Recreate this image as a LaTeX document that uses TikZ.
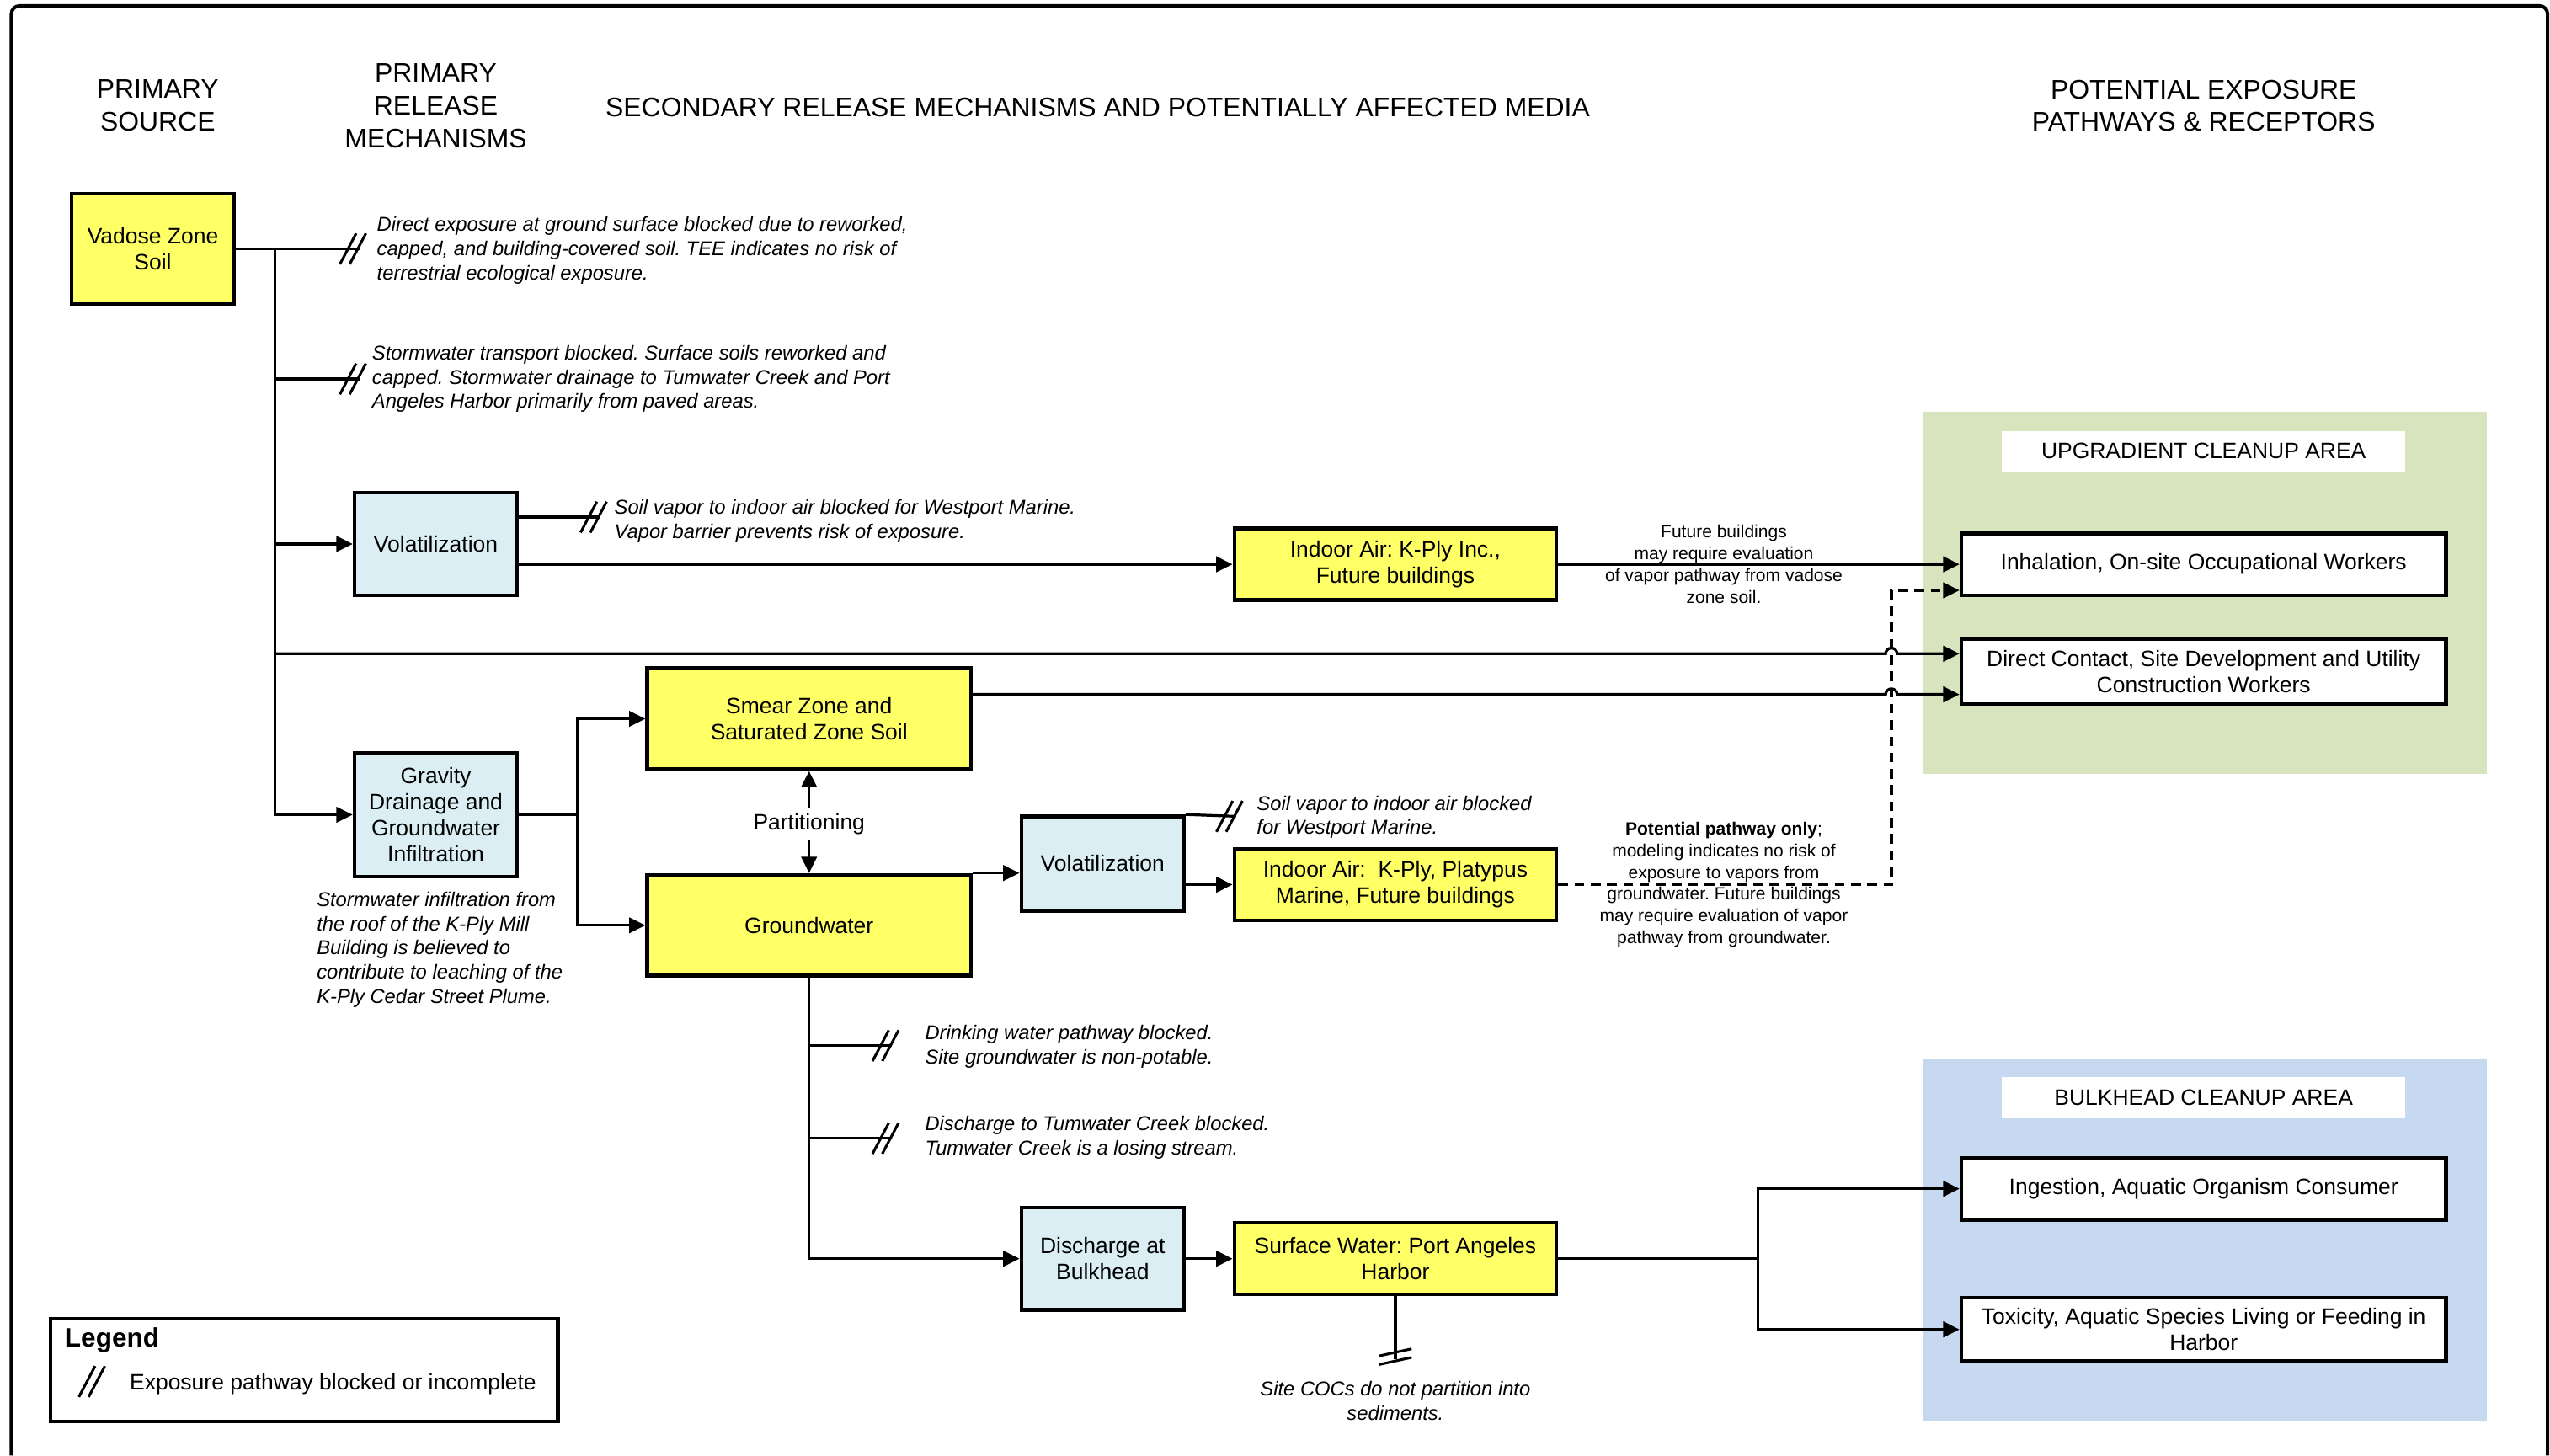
\documentclass[tikz,border=0pt]{standalone}
\usepackage{fontspec}
\setmainfont{Liberation Sans}
\usetikzlibrary{arrows.meta,positioning,calc}
\frenchspacing

\definecolor{mediayellow}{HTML}{FFFF66}
\definecolor{mechblue}{HTML}{DAEEF3}
\definecolor{upgreen}{HTML}{D7E4BD}
\definecolor{bulkblue}{HTML}{C6D9F1}

\tikzset{
  blocked/.pic={\draw[line width=0.9pt] (-12,9.5) -- (-2,-9.5) (-6,9.5) -- (4,-9.5);},
  vblocked/.pic={\draw[line width=0.9pt] (-10,-2.2) -- (10,-6.6) (-10,3.1) -- (10,-1.3);}
}

\begin{document}
\begin{tikzpicture}[x=0.2mm, y=-0.2mm, line width=0.95pt,
        >={Triangle[length=2mm,width=1.9mm]},
        mediabox/.style={rectangle, draw, line width=1.3pt, fill=mediayellow, align=center, inner sep=1pt, font=\fontsize{7.8}{9.2}\selectfont},
        mechbox/.style={mediabox, fill=mechblue},
        recbox/.style={mediabox, fill=white},
        headtxt/.style={align=center, inner sep=0pt, font=\fontsize{9.4}{11.4}\selectfont},
        notetxt/.style={align=left, anchor=west, inner sep=0pt, font=\fontsize{7}{8.5}\selectfont\itshape},
        sidetxt/.style={align=center, inner sep=0pt, font=\fontsize{6.2}{7.6}\selectfont},
        areatxt/.style={fill=white, minimum width=49.6mm, minimum height=5mm, inner sep=0pt, font=\fontsize{7.8}{9.2}\selectfont}]

    \useasboundingbox (0,0) rectangle (1568,895);
    \draw[line width=1.2pt, rounded corners=1mm] (7,895) -- (7,3.6) -- (1566.5,3.6) -- (1566.5,895);

    % cleanup areas
    \fill[upgreen] (1182,253) rectangle (1529,476);
    \fill[bulkblue] (1182,651) rectangle (1529,874);
    \node[areatxt] (upglbl) at (1355,277.5) {UPGRADIENT CLEANUP AREA};
    \node[areatxt] (bulklbl) at (1355,675) {BULKHEAD CLEANUP AREA};

    % column headings
    \node[headtxt] (hsrc) at (97,65) {PRIMARY\\SOURCE};
    \node[headtxt] (hrel) at (268,65) {PRIMARY\\RELEASE\\MECHANISMS};
    \node[headtxt] (hsec) at (675,66) {SECONDARY RELEASE MECHANISMS AND POTENTIALLY AFFECTED MEDIA};
    \node[headtxt] (hexp) at (1355,65) {POTENTIAL EXPOSURE\\PATHWAYS \& RECEPTORS};

    % media and mechanisms
    \node[mediabox, minimum width=20mm, minimum height=13.6mm] (vadose) at (94,153) {Vadose Zone\\Soil};
    \node[mechbox, minimum width=20mm, minimum height=12.6mm] (vol1) at (268,334.5) {Volatilization};
    \node[mechbox, minimum width=20mm, minimum height=15.2mm] (grav) at (268,501) {Gravity\\Drainage and\\Groundwater\\Infiltration};
    \node[mediabox, minimum width=39.8mm, minimum height=12.4mm] (smear) at (497.5,442) {Smear Zone and\\Saturated Zone Soil};
    \node[mediabox, minimum width=39.8mm, minimum height=12.4mm] (gw) at (497.5,569) {Groundwater};
    \node[mechbox, minimum width=20mm, minimum height=11.6mm] (vol2) at (678,531) {Volatilization};
    \node[mediabox, minimum width=39.6mm, minimum height=8.8mm] (ia1) at (858,347) {Indoor Air: K-Ply Inc.,\\Future buildings};
    \node[mediabox, minimum width=39.6mm, minimum height=8.8mm] (ia2) at (858,544) {Indoor Air:\ \ K-Ply, Platypus\\Marine, Future buildings};
    \node[mechbox, minimum width=20mm, minimum height=12.6mm] (dis) at (678,774) {Discharge at\\Bulkhead};
    \node[mediabox, minimum width=39.6mm, minimum height=8.8mm] (sw) at (858,774) {Surface Water: Port Angeles\\Harbor};
    \node[font=\fontsize{7.8}{9.2}\selectfont, inner sep=1.5pt] (part) at (497.5,507) {Partitioning};

    % receptors
    \node[recbox, minimum width=59.6mm, minimum height=7.6mm] (inh) at (1355,347) {Inhalation, On-site Occupational Workers};
    \node[recbox, minimum width=59.6mm, minimum height=8mm] (dc) at (1355,413) {Direct Contact, Site Development and Utility\\Construction Workers};
    \node[recbox, minimum width=59.6mm, minimum height=7.6mm] (ing) at (1355,731) {Ingestion, Aquatic Organism Consumer};
    \node[recbox, minimum width=59.6mm, minimum height=7.8mm] (tox) at (1355,817.5) {Toxicity, Aquatic Species Living or Feeding in\\Harbor};

    % notes
    \node[notetxt] (n1) at (231,154) {Direct exposure at ground surface blocked due to reworked,\\capped, and building-covered soil. TEE indicates no risk of\\terrestrial ecological exposure.};
    \node[notetxt] (n2) at (228,233) {Stormwater transport blocked. Surface soils reworked and\\capped. Stormwater drainage to Tumwater Creek and Port\\Angeles Harbor primarily from paved areas.};
    \node[notetxt] (n3) at (377,320.5) {Soil vapor to indoor air blocked for Westport Marine.\\Vapor barrier prevents risk of exposure.};
    \node[notetxt] (n4) at (772,502.5) {Soil vapor to indoor air blocked\\for Westport Marine.};
    \node[notetxt] (n5) at (194,584) {Stormwater infiltration from\\the roof of the K-Ply Mill\\Building is believed to\\contribute to leaching of the\\K-Ply Cedar Street Plume.};
    \node[notetxt] (n6) at (568,643.5) {Drinking water pathway blocked.\\Site groundwater is non-potable.};
    \node[notetxt] (n7) at (568,699.5) {Discharge to Tumwater Creek blocked.\\Tumwater Creek is a losing stream.};
    \node[notetxt, anchor=center, align=center] (n8) at (858,861.5) {Site COCs do not partition into\\sediments.};
    \node[sidetxt] (sn1) at (1060,347) {Future buildings\\may require evaluation\\of vapor pathway from vadose\\zone soil.};
    \node[sidetxt] (sn2) at (1060,544) {\textbf{Potential pathway only};\\modeling indicates no risk of\\exposure to vapors from\\groundwater. Future buildings\\may require evaluation of vapor\\pathway from groundwater.};

    % connector points
    \coordinate (trunk) at (169,153);
    \coordinate (gsplit) at (355,501);
    \coordinate (swsplit) at (1081,774);
    \coordinate (dashturn) at (1163,544);
    \coordinate (hop1) at (1163,402);
    \coordinate (hop2) at (1163,427);
    \coordinate (blk1) at (221,153);
    \coordinate (blk2) at (221,233);
    \coordinate (blk3) at (369,318);
    \coordinate (blk4) at (760,502);
    \coordinate (blk5) at (548.5,643);
    \coordinate (blk6) at (548.5,700);
    \coordinate (blk7) at (858,836);

    % vadose zone soil
    \draw (vadose) -- (blk1);
    \draw (trunk |- blk2) -- (blk2);
    \draw[->] (trunk) |- (grav);
    \draw[->] (trunk |- vol1) -- (vol1);
    \draw[->] (trunk |- hop1) -- ([xshift=-0.7mm]hop1) arc[start angle=180, end angle=0, radius=0.7mm] -- ([yshift=2.2mm]dc.west);
    \draw (vol1.east |- blk3) -- (blk3);
    \draw[->] (vol1.east |- ia1) -- (ia1);
    \draw[->] (ia1) -- (inh);

    % groundwater
    \draw (grav) -- (gsplit);
    \draw[->] (gsplit) |- (smear);
    \draw[->] (gsplit) |- (gw);
    \draw[->] (part) -- (smear);
    \draw[->] (part) -- (gw);
    \draw[->] ([yshift=3mm]smear.east) -- ([xshift=-0.7mm]hop2) arc[start angle=180, end angle=0, radius=0.7mm] -- ([yshift=-2.8mm]dc.west);
    \draw[->] (gw.north east) -- (vol2.west |- gw.north east);
    \draw (vol2.north east) -- (blk4);
    \draw[->] (vol2.east |- ia2) -- (ia2);
    \draw[->, dash pattern=on 1.2mm off 0.8mm] (ia2) -- (dashturn) |- ([yshift=-3.2mm]inh.west);
    \draw (gw.south |- blk5) -- (blk5);
    \draw (gw.south |- blk6) -- (blk6);
    \draw[->] (gw) |- (dis);
    \draw[->] (dis) -- (sw);
    \draw (sw) -- (blk7);
    \draw (sw) -- (swsplit);
    \draw[->] (swsplit) |- (ing);
    \draw[->] (swsplit) |- (tox);

    % blocked marks
    \foreach \b in {blk1,blk2,blk3,blk4,blk5,blk6}
        \pic at (\b) {blocked};
    \pic at (blk7) {vblocked};

    % legend
    \node[draw, line width=1.3pt, minimum width=62.4mm, minimum height=12.6mm, inner sep=0pt] (legend) at (187,842.5) {};
    \node[anchor=west, inner sep=0pt, font=\fontsize{9.3}{11}\selectfont\bfseries] (legtitle) at (39,824) {Legend};
    \node[anchor=west, inner sep=0pt, font=\fontsize{7.8}{9.2}\selectfont] (legtxt) at (79,851) {Exposure pathway blocked or incomplete};
    \pic at (60.5,849.5) {blocked};
\end{tikzpicture}
\end{document}
